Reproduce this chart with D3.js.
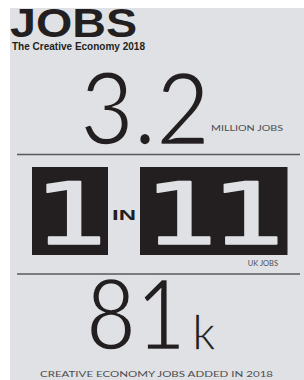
<!DOCTYPE html>
<html>
<head>
	<meta charset="utf-8">
	<script src="https://d3js.org/d3.v7.min.js"></script>
	<style>
		body { margin: 0; background: #fff; }
		.dark { fill: #231f20; }
		.small { fill: #4d4d4f; font-family: "Lato", "Liberation Sans", sans-serif; font-size: 7.5px; }
		.thin { font-family: "Lato", "Noto Sans", sans-serif; font-weight: 400; stroke: #dfe1e4; stroke-width: 2.5px; }
	</style>
</head>
<body>
	<svg></svg>
	<script>
		// infographic content
		var title = ["JOBS"];
		var subtitle = ["The Creative Economy 2018"];
		var stats = ["3.2", "81"];
		var statUnits = ["", "k"];
		var statLabels = ["MILLION JOBS", "UK JOBS", "CREATIVE ECONOMY JOBS ADDED IN 2018"];
		var ratio = [1, 11];
		var ratioWord = ["IN"];

		var width = 304, height = 380;
		var panelColor = "#dfe1e4";

		var svg = d3.select("svg")
			.attr("width", width)
			.attr("height", height);

		svg.append("rect")
			.attr("x", 10).attr("y", 8)
			.attr("width", width - 10).attr("height", height - 8)
			.attr("fill", panelColor);

		// header
		svg.append("text")
			.attr("class", "dark")
			.attr("x", 10).attr("y", 37)
			.attr("font-family", "Liberation Sans, Arial, sans-serif")
			.attr("font-weight", "bold")
			.attr("font-size", 40)
			.attr("textLength", 127)
			.attr("lengthAdjust", "spacingAndGlyphs")
			.text(title[0]);
		svg.append("text")
			.attr("class", "dark")
			.attr("x", 12).attr("y", 50)
			.attr("font-family", "Liberation Sans, Arial, sans-serif")
			.attr("font-weight", "bold")
			.attr("font-size", 11)
			.attr("textLength", 133)
			.attr("lengthAdjust", "spacingAndGlyphs")
			.text(subtitle[0]);

		// separators
		[154.5, 274].forEach(y => {
			svg.append("line")
				.attr("x1", 17).attr("x2", 300)
				.attr("y1", y).attr("y2", y)
				.attr("stroke", "#58595b")
				.attr("stroke-width", 1.5);
		});

		// 3.2 million jobs
		svg.append("text")
			.attr("class", "dark thin")
			.attr("x", 80).attr("y", 145)
			.attr("font-size", 101)
			.attr("textLength", 130)
			.attr("lengthAdjust", "spacingAndGlyphs")
			.text(stats[0]);
		svg.append("text")
			.attr("class", "small")
			.attr("x", 211).attr("y", 131)
			.attr("textLength", 72)
			.attr("lengthAdjust", "spacingAndGlyphs")
			.text(statLabels[0]);

		// 1 in 11 boxes: width follows the number of digits
		var digitW = d3.scaleLinear().domain([0, 1]).range([0, 71.5]);
		var boxes = [
			{ value: ratio[0], x: 32 },
			{ value: ratio[1], x: 140 }
		];
		boxes.forEach(b => {
			var digits = String(b.value).split("");
			var w = digitW(digits.length) + 4.5;
			svg.append("rect")
				.attr("class", "dark")
				.attr("x", b.x).attr("y", 167)
				.attr("width", w).attr("height", 88);
			digits.forEach((d, i) => {
				var cx = b.x + w / 2 + (i - (digits.length - 1) / 2) * 67;
				svg.append("text")
					.attr("x", cx).attr("y", 244)
					.attr("text-anchor", "middle")
					.attr("font-family", "DejaVu Sans Mono, monospace")
					.attr("font-size", 86)
					.attr("fill", panelColor)
					.attr("stroke", panelColor)
					.attr("stroke-width", 1.5)
					.attr("stroke-linejoin", "round")
					.attr("transform", "translate(" + cx + ",244) scale(1.45,1) translate(" + (-cx) + ",-244)")
					.text(d);
			});
		});
		svg.append("text")
			.attr("class", "dark")
			.attr("x", 112).attr("y", 220)
			.attr("font-family", "Liberation Sans, Arial, sans-serif")
			.attr("font-weight", "bold")
			.attr("font-size", 14)
			.attr("textLength", 24)
			.attr("lengthAdjust", "spacingAndGlyphs")
			.text(ratioWord[0]);
		svg.append("text")
			.attr("class", "small")
			.attr("x", 278).attr("y", 266)
			.attr("text-anchor", "end")
			.text(statLabels[1]);

		// 81k
		svg.append("text")
			.attr("class", "dark thin")
			.attr("x", 86).attr("y", 350)
			.attr("font-size", 99)
			.attr("textLength", 100)
			.attr("lengthAdjust", "spacingAndGlyphs")
			.text(stats[1]);
		svg.append("text")
			.attr("class", "dark thin")
			.attr("x", 192).attr("y", 350)
			.attr("font-size", 48)
			.style("stroke-width", "1.5px")
			.text(statUnits[1]);
		svg.append("text")
			.attr("class", "small")
			.attr("x", 40).attr("y", 377)
			.attr("textLength", 233)
			.attr("lengthAdjust", "spacingAndGlyphs")
			.text(statLabels[2]);
	</script>
</body>
</html>
